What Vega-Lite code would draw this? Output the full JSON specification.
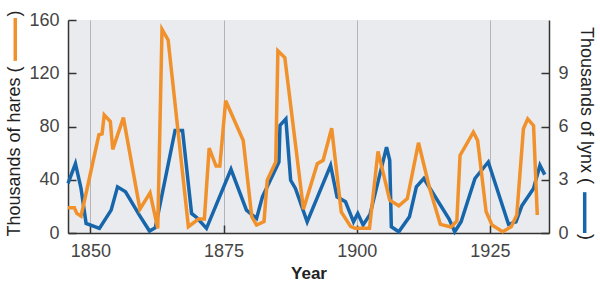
{
  "$schema": "https://vega.github.io/schema/vega-lite/v6.json",
  "width": 481,
  "height": 213,
  "autosize": "none",
  "padding": {"left": 68, "top": 20, "right": 51, "bottom": 53},
  "background": "white",
  "config": {
    "view": {"fill": "#E9EBEE", "stroke": null},
    "axis": {
      "labelFont": "Liberation Sans",
      "labelFontSize": 18,
      "labelColor": "#454545",
      "titleFont": "Liberation Sans",
      "titleFontSize": 18,
      "titleFontWeight": "normal",
      "titleColor": "#222222",
      "domainColor": "#333333",
      "domainWidth": 1.5,
      "tickColor": "#333333",
      "tickWidth": 1.5,
      "tickSize": -8,
      "labelPadding": 17,
      "grid": false
    }
  },
  "datasets": {
    "hares": [
      {"year": 1845.8, "hares": 18.9}, {"year": 1847.0, "hares": 18.9}, {"year": 1847.45, "hares": 14.7},
      {"year": 1848.25, "hares": 12.7}, {"year": 1851.6, "hares": 73.8}, {"year": 1852.2, "hares": 74.5},
      {"year": 1852.6, "hares": 88.7}, {"year": 1853.75, "hares": 83.7}, {"year": 1854.2, "hares": 62.8},
      {"year": 1856.2, "hares": 86.7}, {"year": 1859.3, "hares": 17.9}, {"year": 1861.2, "hares": 30.1},
      {"year": 1862.65, "hares": 3.5}, {"year": 1863.45, "hares": 153}, {"year": 1864.6, "hares": 145},
      {"year": 1868.4, "hares": 4.7}, {"year": 1870.3, "hares": 10.5}, {"year": 1871.4, "hares": 10.5},
      {"year": 1872.3, "hares": 63.8}, {"year": 1873.6, "hares": 50.3}, {"year": 1874.3, "hares": 50.3},
      {"year": 1875.4, "hares": 99.4}, {"year": 1878.7, "hares": 69.5}, {"year": 1880.3, "hares": 12.2},
      {"year": 1881.2, "hares": 6}, {"year": 1882.6, "hares": 8.5}, {"year": 1883.2, "hares": 39.6},
      {"year": 1884.8, "hares": 53.3}, {"year": 1885.2, "hares": 136.8}, {"year": 1886.5, "hares": 131.8},
      {"year": 1890.0, "hares": 17.9}, {"year": 1892.6, "hares": 52.1}, {"year": 1893.7, "hares": 54.6},
      {"year": 1895.3, "hares": 78.7}, {"year": 1897.1, "hares": 15.9}, {"year": 1898.85, "hares": 5},
      {"year": 1899.7, "hares": 3.5}, {"year": 1902.4, "hares": 3.5}, {"year": 1904.0, "hares": 61.3},
      {"year": 1906.2, "hares": 24.7}, {"year": 1907.9, "hares": 20.4}, {"year": 1909.5, "hares": 25.9},
      {"year": 1911.6, "hares": 67.8}, {"year": 1913.7, "hares": 33.4}, {"year": 1915.7, "hares": 6.5},
      {"year": 1917.7, "hares": 4.5}, {"year": 1918.8, "hares": 9}, {"year": 1919.4, "hares": 58.3},
      {"year": 1921.9, "hares": 75.7}, {"year": 1922.7, "hares": 69.5}, {"year": 1924.3, "hares": 15.9},
      {"year": 1925.4, "hares": 6}, {"year": 1927.4, "hares": 1}, {"year": 1929.0, "hares": 4.7},
      {"year": 1930.05, "hares": 13.5}, {"year": 1931.3, "hares": 78.3}, {"year": 1932.1, "hares": 85.7},
      {"year": 1933.2, "hares": 80.7}, {"year": 1933.9, "hares": 13.5}
    ],
    "lynx": [
      {"year": 1845.8, "lynx": 2.79}, {"year": 1847.2, "lynx": 3.91}, {"year": 1848.25, "lynx": 2.51},
      {"year": 1849.2, "lynx": 0.54}, {"year": 1851.7, "lynx": 0.26}, {"year": 1853.9, "lynx": 1.29},
      {"year": 1855.1, "lynx": 2.6}, {"year": 1856.6, "lynx": 2.32}, {"year": 1859.2, "lynx": 1.01},
      {"year": 1861.1, "lynx": 0.11}, {"year": 1862.2, "lynx": 0.3}, {"year": 1865.9, "lynx": 5.78},
      {"year": 1867.3, "lynx": 5.78}, {"year": 1869.0, "lynx": 1.1}, {"year": 1870.0, "lynx": 0.86},
      {"year": 1871.8, "lynx": 0.26}, {"year": 1876.4, "lynx": 3.59}, {"year": 1879.3, "lynx": 1.29},
      {"year": 1881.2, "lynx": 0.82}, {"year": 1882.3, "lynx": 2.04}, {"year": 1885.4, "lynx": 4.0},
      {"year": 1885.6, "lynx": 6.06}, {"year": 1886.7, "lynx": 6.43}, {"year": 1887.6, "lynx": 2.97},
      {"year": 1888.5, "lynx": 2.51}, {"year": 1890.7, "lynx": 0.63}, {"year": 1895.1, "lynx": 3.81},
      {"year": 1896.3, "lynx": 2.04}, {"year": 1897.9, "lynx": 1.76}, {"year": 1899.4, "lynx": 0.63},
      {"year": 1900.2, "lynx": 1.1}, {"year": 1901.2, "lynx": 0.45}, {"year": 1902.5, "lynx": 1.05},
      {"year": 1905.6, "lynx": 4.84}, {"year": 1906.2, "lynx": 4.1}, {"year": 1906.5, "lynx": 0.35},
      {"year": 1907.9, "lynx": 0.07}, {"year": 1909.9, "lynx": 0.91}, {"year": 1911.2, "lynx": 2.6},
      {"year": 1912.6, "lynx": 3.07}, {"year": 1917.35, "lynx": 0.79}, {"year": 1918.4, "lynx": 0.07},
      {"year": 1919.6, "lynx": 0.63}, {"year": 1922.2, "lynx": 3.07}, {"year": 1924.7, "lynx": 4.0},
      {"year": 1928.5, "lynx": 0.49}, {"year": 1929.9, "lynx": 0.63}, {"year": 1931.0, "lynx": 1.53},
      {"year": 1933.2, "lynx": 2.51}, {"year": 1934.4, "lynx": 3.81}, {"year": 1935.3, "lynx": 3.29}
    ]
  },
  "layer": [
    {
      "layer": [
        {
          "data": {"name": "lynx"},
          "mark": {"type": "line", "color": "#1766AB", "strokeWidth": 3.5, "strokeJoin": "miter"},
          "encoding": {
            "x": {
              "field": "year", "type": "quantitative",
              "scale": {"domain": [1845.8, 1936.1], "nice": false, "zero": false},
              "axis": {
                "orient": "bottom", "values": [1850, 1875, 1900, 1925], "format": "d",
                "grid": true, "gridColor": "#B5B5B8", "gridWidth": 1,
                "title": "Year", "titleFontWeight": "bold", "titleFontSize": 17, "titlePadding": 5
              }
            },
            "y": {
              "field": "lynx", "type": "quantitative",
              "scale": {"domain": [0, 12], "nice": false},
              "axis": {
                "orient": "right", "values": [0, 3, 6, 9],
                "title": "Thousands of lynx (\u00a0\u00a0\u00a0\u00a0\u00a0\u00a0\u00a0\u00a0\u00a0\u00a0)",
                "titleAngle": 90, "titleX": 36, "titleY": 113, "titleAlign": "center", "titleBaseline": "middle"
              }
            }
          }
        },
        {
          "data": {"values": [{"a": 1}]},
          "mark": {"type": "rule", "color": "#1766AB", "strokeWidth": 3.5, "clip": false},
          "encoding": {
            "x": {"datum": 1942.8, "type": "quantitative"},
            "y": {"datum": 0.0, "type": "quantitative"},
            "y2": {"datum": 2.3}
          }
        }
      ]
    },
    {
      "layer": [
        {
          "data": {"name": "hares"},
          "mark": {"type": "line", "color": "#F0912C", "strokeWidth": 3.5, "strokeJoin": "miter"},
          "encoding": {
            "x": {"field": "year", "type": "quantitative"},
            "y": {
              "field": "hares", "type": "quantitative",
              "scale": {"domain": [0, 160], "nice": false},
              "axis": {
                "orient": "left", "values": [0, 40, 80, 120, 160],
                "title": "Thousands of hares (\u00a0\u00a0\u00a0\u00a0\u00a0\u00a0\u00a0\u00a0\u00a0\u00a0)",
                "titleAngle": -90, "titleX": -54, "titleY": 103, "titleAlign": "center", "titleBaseline": "middle"
              }
            }
          }
        },
        {
          "data": {"values": [{"a": 1}]},
          "mark": {"type": "rule", "color": "#F0912C", "strokeWidth": 3.5, "clip": false},
          "encoding": {
            "x": {"datum": 1835.9, "type": "quantitative"},
            "y": {"datum": 129.3, "type": "quantitative"},
            "y2": {"datum": 161.5}
          }
        }
      ]
    }
  ],
  "resolve": {"scale": {"y": "independent"}}
}
